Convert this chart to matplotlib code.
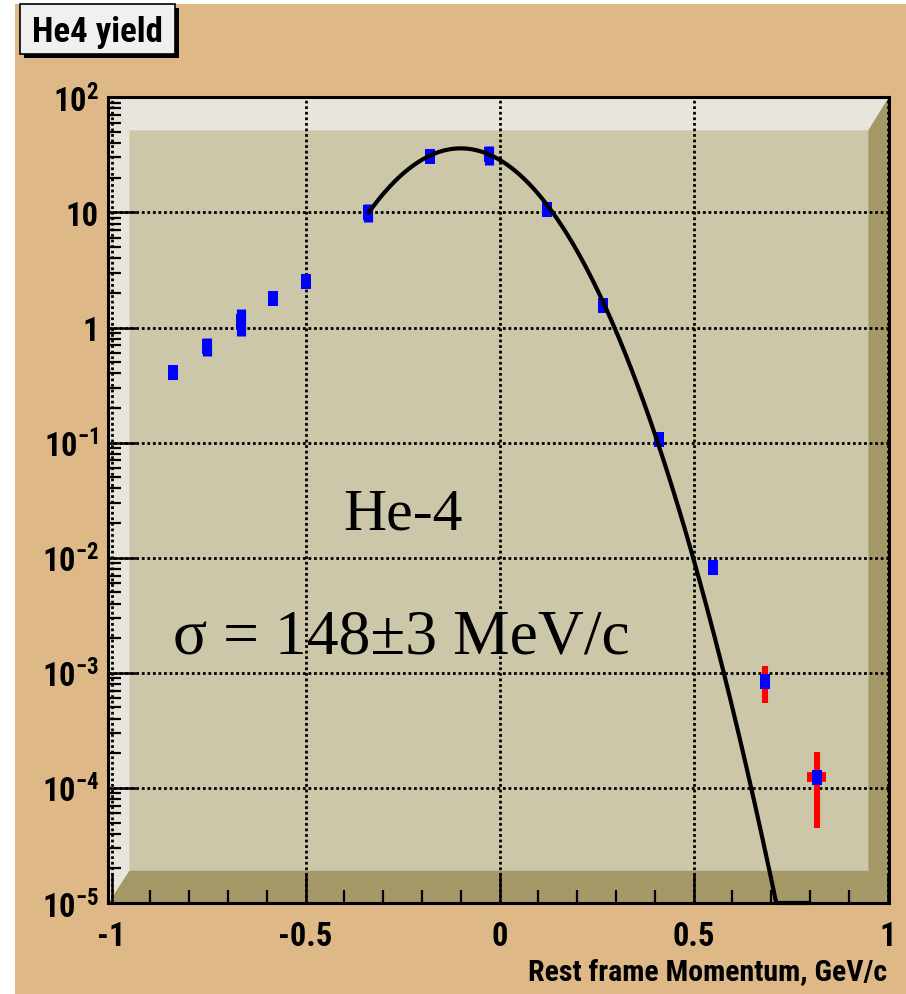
import numpy as np
import matplotlib
matplotlib.use("Agg")
import matplotlib.pyplot as plt
from matplotlib import font_manager
from matplotlib.patches import Rectangle, Polygon
from matplotlib.ticker import FixedLocator, FuncFormatter

W, H = 906, 995

# measured yields vs rest frame momentum
momentum = [-0.841, -0.753, -0.667, -0.583, -0.500, -0.338, -0.179, -0.027,
            0.122, 0.267, 0.411, 0.549, 0.685, 0.818]
yields = [0.41, 0.69, 1.14, 1.82, 2.54, 10.1, 30.9, 32.0,
          10.7, 1.56, 0.107, 0.00835, 0.00085, 0.000125]
stat_err = [0, 0.12, 0.3, 0, 0, 1.8, 0, 6.0, 0, 0, 0, 0, 0, 0]
tot_err = [0, 0, 0, 0, 0, 0, 0, 0, 0, 0, 0, 0, 0.0003, 0.00008]
bin_halfwidth = [0, 0, 0, 0, 0, 0, 0, 0, 0, 0, 0, 0, 0, 0.0245]

# gaussian fit
fit_amp = 36.0
fit_mean = -0.10
fit_sigma = 0.148
fit_range = (-0.34, 0.80)

x_ticks = [-1, -0.5, 0, 0.5, 1]
x_ticklabels = ["-1", "-0.5", "0", "0.5", "1"]


def pick_font(*names):
    for n in names:
        try:
            font_manager.findfont(font_manager.FontProperties(family=n),
                                  fallback_to_default=False)
            return n
        except ValueError:
            continue
    return "DejaVu Sans"


SANS = pick_font("Liberation Sans Narrow", "Roboto Condensed", "DejaVu Sans Condensed",
                 "Noto Sans Condensed", "Open Sans Condensed", "Liberation Sans")
SERIF = pick_font("Liberation Serif", "DejaVu Serif")
# the wide fallback needs smaller sizes to keep label widths
k = 1.0 if SANS != "Liberation Sans" else 0.86

plt.rcParams["mathtext.fontset"] = "custom"
plt.rcParams["mathtext.rm"] = SANS + ":bold"
plt.rcParams["mathtext.bf"] = SANS + ":bold"
plt.rcParams["mathtext.it"] = SANS + ":bold"
plt.rcParams["axes.unicode_minus"] = False

TAN = "#deb887"
FACE = "#cdc7aa"
LIGHT = "#e8e6dc"
DARK = "#a39866"


def fx(px):
    return px / W


def fy(py):
    return 1 - py / H


fig = plt.figure(figsize=(W / 100, H / 100), dpi=100)
fig.patch.set_facecolor("white")
fig.patches.append(Rectangle((fx(15), 0), 1 - fx(15), fy(5), transform=fig.transFigure,
                             facecolor=TAN, edgecolor="none", zorder=-10))

ax = fig.add_axes([fx(108.4), fy(904), fx(888.7) - fx(108.4), fy(98.3) - fy(904)])
ax.set_facecolor("none")
ax.set_xlim(-1.008, 1.003)
ax.set_yscale("log")
ax.set_ylim(1e-5, 1e2)

# raised frame: light top/left, dark bottom/right
l, r, t, b = 0.027, 0.026, 0.041, 0.040
ax.add_patch(Rectangle((0, 0), 1, 1, transform=ax.transAxes, facecolor=FACE,
                       edgecolor="none", zorder=0.1))
frame = [
    ([(0, 1), (1, 1), (1 - r, 1 - t), (l, 1 - t)], LIGHT),
    ([(0, 0), (l, b), (l, 1 - t), (0, 1)], LIGHT),
    ([(0, 0), (1, 0), (1 - r, b), (l, b)], DARK),
    ([(1, 0), (1, 1), (1 - r, 1 - t), (1 - r, b)], DARK),
]
for verts, c in frame:
    ax.add_patch(Polygon(verts, closed=True, transform=ax.transAxes,
                         facecolor=c, edgecolor="none", zorder=0.2))

ax.set_axisbelow(True)
grid_kw = dict(color="black", linewidth=2.0, linestyle=(0, (1, 1)))
ax.grid(True, which="major", axis="both", **grid_kw)

# ticks
ax.xaxis.set_major_locator(FixedLocator(x_ticks))
ax.xaxis.set_minor_locator(FixedLocator(np.round(np.arange(-1, 1.01, 0.1), 2)))
ax.set_xticklabels(x_ticklabels)
ax.yaxis.set_major_locator(FixedLocator([10.0 ** e for e in range(-5, 3)]))
ax.yaxis.set_minor_locator(FixedLocator([m * 10.0 ** e for e in range(-5, 2)
                                         for m in range(2, 10)]))


def ylab(v, pos):
    e = int(round(np.log10(v)))
    if e == 0:
        return "1"
    if e == 1:
        return "10"
    return r"$\mathregular{10^{%d}}$" % e


ax.yaxis.set_major_formatter(FuncFormatter(ylab))
ax.yaxis.set_minor_formatter(FuncFormatter(lambda v, p: ""))

ax.tick_params(axis="both", which="both", direction="in", colors="black",
               top=False, right=False)
ax.tick_params(axis="y", which="major", length=20, width=1.8, pad=7)
ax.tick_params(axis="y", which="minor", length=9.5, width=1.6)
ax.tick_params(axis="x", which="major", length=21, width=1.8, pad=12)
ax.tick_params(axis="x", which="minor", length=9.5, width=1.6)
for lab in ax.get_xticklabels() + ax.get_yticklabels():
    lab.set_fontfamily(SANS)
    lab.set_fontweight("bold")
    lab.set_fontsize(23.5 * k)

for s in ax.spines.values():
    s.set_linewidth(2.2)
    s.set_color("black")

# points
box = [(-0.31, -0.5), (0.31, -0.5), (0.31, 0.5), (-0.31, 0.5), (-0.31, -0.5)]
mom = np.array(momentum)
yv = np.array(yields)
ax.errorbar(mom, yv, yerr=tot_err, fmt="none", ecolor="red",
            elinewidth=4.4, capsize=0, zorder=3)
ax.errorbar(mom, yv, xerr=bin_halfwidth, fmt="none", ecolor="red",
            elinewidth=7, capsize=0, zorder=3)
ax.errorbar(mom, yv, yerr=stat_err, fmt="none", ecolor="blue",
            elinewidth=6.6, capsize=0, zorder=4)
ax.plot(mom, yv, linestyle="none", marker=box, markersize=10.8,
        markerfacecolor="blue", markeredgewidth=0, zorder=4)

# fit curve, floored at the bottom of the frame
pf = np.linspace(fit_range[0], fit_range[1], 500)
yf = fit_amp * np.exp(-(pf - fit_mean) ** 2 / (2 * fit_sigma ** 2))
ax.plot(pf, np.maximum(yf, 1e-5), color="black", linewidth=3.0, zorder=5,
        clip_on=False, solid_capstyle="butt")

fig.text(fx(403), fy(530), "He-4", family=SERIF, fontsize=43,
         ha="center", va="baseline", color="black")
fig.text(fx(173), fy(654), "\u03c3 = 148\u00b13 MeV/c", family=SERIF, fontsize=45.8,
         ha="left", va="baseline", color="black")

fig.text(fx(887), fy(980), "Rest frame Momentum, GeV/c", family=SANS,
         fontweight="bold", fontsize=21.5 * k, ha="right", va="baseline", color="black")

# title box with drop shadow
fig.patches.append(Rectangle((fx(24), fy(59)), fx(155), fy(5) - fy(55),
                             transform=fig.transFigure, facecolor="black",
                             edgecolor="none", zorder=5))
fig.patches.append(Rectangle((fx(20), fy(55)), fx(155), fy(5) - fy(55),
                             transform=fig.transFigure, facecolor="#f0f0f0",
                             edgecolor="black", linewidth=1.2, zorder=6))
fig.text(fx(97), fy(42), "He4 yield", family=SANS, fontweight="bold",
         fontsize=25 * k, ha="center", va="baseline", color="black", zorder=7)

fig.savefig("out.png", dpi=100)
